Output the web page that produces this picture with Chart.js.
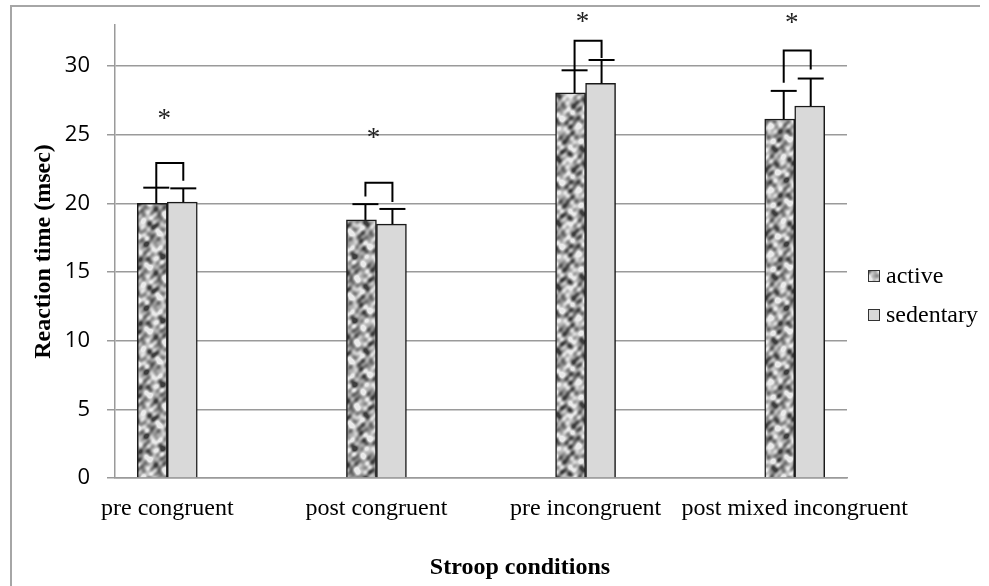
<!DOCTYPE html>
<html><head><meta charset="utf-8">
<script src="https://cdn.jsdelivr.net/npm/chart.js@4.4.1/dist/chart.umd.min.js"></script>
<style>
html,body{margin:0;padding:0;background:#fff;}
#wrap{position:relative;width:989px;height:586px;overflow:hidden;}
#frame{position:absolute;left:10px;top:5px;width:970px;height:700px;border-left:2px solid #a6a6a6;border-top:2px solid #a6a6a6;box-sizing:border-box;}
#c{position:absolute;left:0;top:0;}
</style></head><body>
<div id="wrap"><div id="frame"></div><canvas id="c" width="989" height="586"></canvas></div>
<script>
// ---- data ----
const categories = ['pre congruent', 'post congruent', 'pre incongruent', 'post mixed incongruent'];
const seriesNames = ['active', 'sedentary'];
const activeMeans = [20.0, 18.8, 28.05, 26.15];
const sedentaryMeans = [20.1, 18.5, 28.75, 27.1];
const activeErrTop = [21.15, 19.95, 29.7, 28.2];
const sedentaryErrTop = [21.1, 19.6, 30.45, 29.1];
const bracketTop = [22.95, 21.5, 31.85, 31.15];
const bracketLeftEnd = [21.15, 20.5, 29.7, 28.8];
const bracketRightEnd = [21.65, 20.1, 30.6, 29.75];
const starLevel = [26.3, 24.9, 33.4, 33.3];
const yTicks = [0, 5, 10, 15, 20, 25, 30];
const yMax = 33;

const canvas = document.getElementById('c');
const mainCtx = canvas.getContext('2d');

function makeTexture() {
  const s = 64, cv = document.createElement('canvas');
  cv.width = cv.height = s;
  const g = cv.getContext('2d'), img = g.createImageData(s, s), t = 2 * Math.PI / s;
  const waves = [[3,1,0.3,1],[1,4,1.9,0.9],[5,-2,0.7,0.8],[-3,5,2.6,0.7],[7,3,1.2,0.6],[2,-7,4.1,0.55],[8,-5,3.3,0.45],[-6,-7,0.2,0.4],[9,8,5.0,0.35],[4,9,2.2,0.35]];
  for (let yy = 0; yy < s; yy++) for (let xx = 0; xx < s; xx++) {
    let n = 0;
    for (const [fx, fy, ph, am] of waves) n += am * Math.sin((fx * xx + fy * yy) * t + ph);
    const v = Math.max(60, Math.min(235, 162 + n * 34));
    const k = (yy * s + xx) * 4;
    img.data[k] = img.data[k + 1] = img.data[k + 2] = v; img.data[k + 3] = 255;
  }
  g.putImageData(img, 0, 0);
  return mainCtx.createPattern(cv, 'repeat');
}
const texture = makeTexture();
const SERIF = '"Liberation Serif", "Times New Roman", serif';

const annot = {
  id: 'annot',
  afterDatasetsDraw(chart) {
    const ctx = chart.ctx, y = chart.scales.y;
    const a = chart.getDatasetMeta(0).data, s = chart.getDatasetMeta(1).data;
    const line = (x1, y1, x2, y2) => { ctx.beginPath(); ctx.moveTo(x1, y1); ctx.lineTo(x2, y2); ctx.stroke(); };
    ctx.save();
    ctx.strokeStyle = '#000'; ctx.lineWidth = 2;
    categories.forEach((c, j) => {
      const ax = a[j].x + 4, sx = s[j].x + 1;
      const ay = y.getPixelForValue(activeErrTop[j]), sy = y.getPixelForValue(sedentaryErrTop[j]);
      line(ax, ay, ax, a[j].y); line(ax - 13, ay, ax + 13, ay);
      line(sx, sy, sx, s[j].y); line(sx - 13, sy, sx + 13, sy);
      const bt = y.getPixelForValue(bracketTop[j]);
      ctx.beginPath();
      ctx.moveTo(ax, y.getPixelForValue(bracketLeftEnd[j]));
      ctx.lineTo(ax, bt); ctx.lineTo(sx, bt);
      ctx.lineTo(sx, y.getPixelForValue(bracketRightEnd[j]));
      ctx.stroke();
      ctx.fillStyle = '#222'; ctx.font = '27px ' + SERIF;
      ctx.textAlign = 'center'; ctx.textBaseline = 'alphabetic';
      ctx.fillText('*', (a[j].x + s[j].x) / 2 - 3, y.getPixelForValue(starLevel[j]) + 10);
    });
    ctx.restore();
  },
  afterDraw(chart) {
    const ctx = chart.ctx;
    ctx.save();
    const ds = chart.data.datasets;
    const rows = [276, 315];
    ds.forEach((d, i) => {
      ctx.fillStyle = d.backgroundColor;
      ctx.fillRect(868, rows[i] - 6, 12, 12);
      ctx.strokeStyle = '#333'; ctx.lineWidth = 1;
      ctx.strokeRect(868.5, rows[i] - 5.5, 11, 11);
      ctx.fillStyle = '#000'; ctx.font = '24px ' + SERIF;
      ctx.textAlign = 'left'; ctx.textBaseline = 'alphabetic';
      ctx.fillText(d.label, 886, rows[i] + 7);
    });
    ctx.font = 'bold 24px ' + SERIF; ctx.textAlign = 'center';
    ctx.fillText('Stroop conditions', 520, 574);
    ctx.restore();
  }
};

new Chart(canvas, {
  type: 'bar',
  data: {
    datasets: [
      { label: seriesNames[0], data: activeMeans.map((v, i) => ({ x: i, y: v })), backgroundColor: texture, borderColor: '#1a1a1a', borderWidth: 1.5, barThickness: 30 },
      { label: seriesNames[1], data: sedentaryMeans.map((v, i) => ({ x: i, y: v })), backgroundColor: '#d9d9d9', borderColor: '#1a1a1a', borderWidth: 1.5, barThickness: 30 }
    ]
  },
  options: {
    responsive: false, animation: false, devicePixelRatio: 1,
    layout: { padding: { left: 0, top: 25, right: 142, bottom: 0 } },
    plugins: { legend: { display: false }, tooltip: { enabled: false } },
    scales: {
      x: {
        type: 'linear', min: -0.25, max: 3.25, offset: false,
        afterBuildTicks: sc => { sc.ticks = categories.map((c, i) => ({ value: i })); },
        afterFit: sc => { sc.height = 108; sc.paddingLeft = 0; sc.paddingRight = 0; },
        grid: { display: false, drawTicks: false },
        border: { display: true, color: '#9a9a9a', width: 1.5 },
        ticks: { autoSkip: false, maxRotation: 0, minRotation: 0, padding: 16, color: '#000',
          font: { family: SERIF, size: 24 }, callback: v => categories[v] ?? '' }
      },
      y: {
        min: 0, max: yMax,
        afterBuildTicks: sc => { sc.ticks = yTicks.map(v => ({ value: v })); },
        afterFit: sc => { sc.width = 115; sc.paddingTop = 0; sc.paddingBottom = 0; },
        grid: { color: '#9a9a9a', lineWidth: 1.5, tickLength: 8, drawTicks: true },
        border: { display: true, color: '#9a9a9a', width: 1.5 },
        ticks: { padding: 17, color: '#000', font: { family: '"Open Sans"', size: 22 } },
        title: { display: true, text: 'Reaction time (msec)', color: '#000',
          font: { family: SERIF, size: 24, weight: 'bold' }, padding: { top: 29, bottom: 0 } }
      }
    }
  },
  plugins: [annot]
});
</script>
</body></html>
